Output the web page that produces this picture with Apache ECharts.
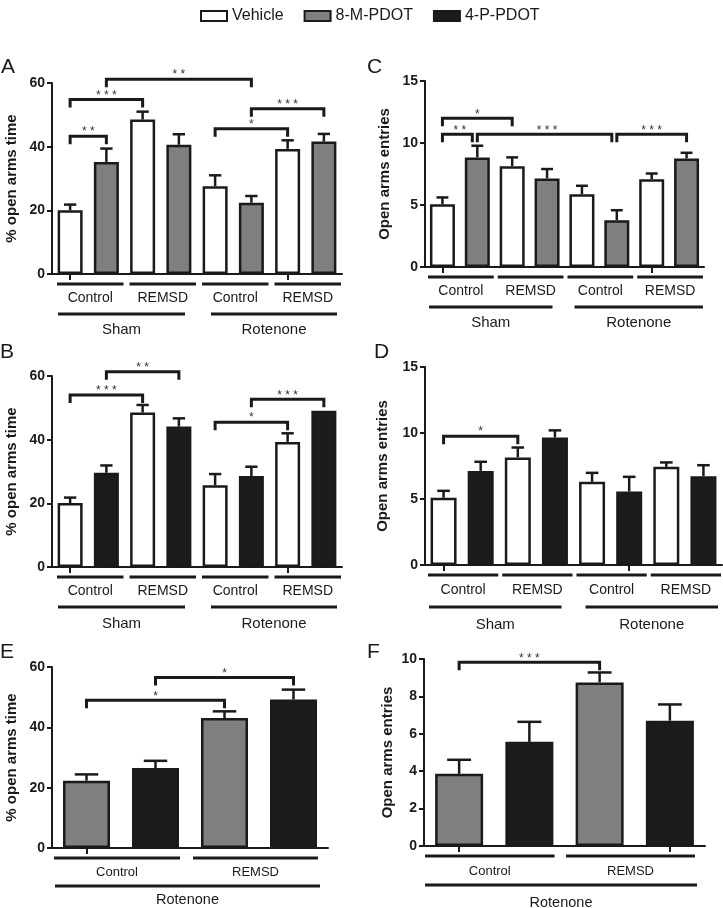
<!DOCTYPE html>
<html><head><meta charset="utf-8">
<script src="https://cdn.jsdelivr.net/npm/echarts@6/dist/echarts.min.js"></script>
<style>html,body{margin:0;padding:0;background:#fff}#c{width:723px;height:908px}</style>
</head><body><div id="c"></div>
<script>
// ---------------- DATA ----------------
const legendNames = ['Vehicle', '8-M-PDOT', '4-P-PDOT'];

const cats8 = ['Sham Control Vehicle', 'Sham Control Drug', 'Sham REMSD Vehicle', 'Sham REMSD Drug',
               'Rotenone Control Vehicle', 'Rotenone Control Drug', 'Rotenone REMSD Vehicle', 'Rotenone REMSD Drug'];
const cats4 = ['Rotenone Control 8-M-PDOT', 'Rotenone Control 4-P-PDOT', 'Rotenone REMSD 8-M-PDOT', 'Rotenone REMSD 4-P-PDOT'];

const treatA = ['Vehicle', '8-M-PDOT', 'Vehicle', '8-M-PDOT', 'Vehicle', '8-M-PDOT', 'Vehicle', '8-M-PDOT'];
const meanA  = [20.0, 35.2, 48.5, 40.6, 27.6, 22.4, 39.3, 41.6];
const errA   = [1.8, 4.2, 2.5, 3.3, 3.4, 2.1, 2.7, 2.4];
const sigA   = [[0, 1, 43.3, '**'], [0, 2, 54.8, '***'], [1, 5, 61.2, '**'], [4, 6, 45.6, '*'], [5, 7, 51.9, '***']];

const treatB = ['Vehicle', '4-P-PDOT', 'Vehicle', '4-P-PDOT', 'Vehicle', '4-P-PDOT', 'Vehicle', '4-P-PDOT'];
const meanB  = [20.1, 29.6, 48.5, 44.1, 25.7, 28.6, 39.3, 49.1];
const errB   = [1.7, 2.3, 2.4, 2.6, 3.5, 2.9, 2.7, 0];
const sigB   = [[0, 2, 54.0, '***'], [1, 3, 61.3, '**'], [4, 6, 45.5, '*'], [5, 7, 52.7, '***']];

const treatC = treatA;
const meanC  = [5.06, 8.84, 8.13, 7.14, 5.87, 3.77, 7.08, 8.76];
const errC   = [0.55, 0.94, 0.71, 0.76, 0.68, 0.81, 0.46, 0.45];
const sigC   = [[0, 1, 10.7, '**'], [0, 2, 12.0, '*'], [1, 5, 10.7, '***'], [5, 7, 10.7, '***']];

const treatD = treatB;
const meanD  = [5.09, 7.13, 8.15, 9.66, 6.30, 5.57, 7.44, 6.73];
const errD   = [0.53, 0.69, 0.75, 0.54, 0.68, 1.11, 0.33, 0.83];
const sigD   = [[0, 2, 9.76, '*']];

const treatE = ['8-M-PDOT', '4-P-PDOT', '8-M-PDOT', '4-P-PDOT'];
const meanE  = [22.3, 26.5, 43.1, 49.2];
const errE   = [2.1, 2.4, 2.2, 3.3];
const sigE   = [[0, 2, 48.96, '*'], [1, 3, 56.5, '*']];

const treatF = treatE;
const meanF  = [3.86, 5.57, 8.75, 6.70];
const errF   = [0.75, 1.07, 0.53, 0.87];
const sigF   = [[0, 2, 9.82, '***']];

const groups8 = [[0, 1, 'Control'], [2, 3, 'REMSD'], [4, 5, 'Control'], [6, 7, 'REMSD']];
const supers8 = [[0, 3, 'Sham'], [4, 7, 'Rotenone']];
const groups4 = [[0, 1, 'Control'], [2, 3, 'REMSD']];
const supers4 = [[0, 3, 'Rotenone']];

const yTimeName = '% open arms time';
const yEntName = 'Open arms entries';

// ---------------- STYLE / LAYOUT ----------------
const FONT = '"Liberation Sans", Arial, Helvetica, sans-serif';
const INK = '#1a1a1a';
const fills = {'Vehicle': '#ffffff', '8-M-PDOT': '#7f7f7f', '4-P-PDOT': '#1c1c1c'};

const panels = [
  {letter: 'A', lpos: [1, 57], cats: cats8, treat: treatA, mean: meanA, err: errA, sig: sigA, groups: groups8, supers: supers8,
   yMax: 60, yInt: 20, yName: yTimeName, grid: {left: 52, top: 83, width: 290, height: 191}, barW: 25, nameGap: 33,
   u: {l1: 10, t1: 24.5, l2: 40, t2: 56, fs1: 14, fs2: 15, in1: [[5, 1], [5, 1], [5, 1], [5, 1]], in2: [[6, 12], [14, 5]]}},
  {letter: 'B', lpos: [0, 342], cats: cats8, treat: treatB, mean: meanB, err: errB, sig: sigB, groups: groups8, supers: supers8,
   yMax: 60, yInt: 20, yName: yTimeName, grid: {left: 52, top: 376, width: 290, height: 191}, barW: 25, nameGap: 33,
   u: {l1: 10, t1: 24.5, l2: 40, t2: 57, fs1: 14, fs2: 15, in1: [[5, 1], [5, 1], [5, 1], [5, 1]], in2: [[6, 12], [14, 5]]}},
  {letter: 'C', lpos: [367, 57], cats: cats8, treat: treatC, mean: meanC, err: errC, sig: sigC, groups: groups8, supers: supers8,
   yMax: 15, yInt: 5, yName: yEntName, grid: {left: 425, top: 81, width: 279, height: 186}, barW: 25, nameGap: 33,
   u: {l1: 10, t1: 24, l2: 40, t2: 56, fs1: 14, fs2: 15, in1: [[3, 1], [3, 1], [3, 1], [3, 1]], in2: [[4, 12], [10, 1]]}},
  {letter: 'D', lpos: [374, 342], cats: cats8, treat: treatD, mean: meanD, err: errD, sig: sigD, groups: groups8, supers: supers8,
   yMax: 15, yInt: 5, yName: yEntName, grid: {left: 425, top: 367, width: 297, height: 198}, barW: 26, nameGap: 35,
   u: {l1: 10, t1: 25, l2: 42, t2: 60, fs1: 14, fs2: 15, in1: [[3, 1], [3, 1], [3, 1], [3, 1]], in2: [[4, 12], [12, 4]]}},
  {letter: 'E', lpos: [0, 642], cats: cats4, treat: treatE, mean: meanE, err: errE, sig: sigE, groups: groups4, supers: supers4,
   yMax: 60, yInt: 20, yName: yTimeName, grid: {left: 52, top: 667, width: 276, height: 181}, barW: 47, nameGap: 33,
   u: {l1: 10, t1: 24.5, l2: 38, t2: 52, fs1: 13, fs2: 14.5, in1: [[2, 10], [3, 10]], in2: [[3, 8]]}},
  {letter: 'F', lpos: [367, 642], cats: cats4, treat: treatF, mean: meanF, err: errF, sig: sigF, groups: groups4, supers: supers4,
   yMax: 10, yInt: 2, yName: yEntName, grid: {left: 424, top: 659, width: 281, height: 187}, barW: 48, nameGap: 29,
   u: {l1: 10, t1: 25.5, l2: 39, t2: 57, fs1: 13, fs2: 14.5, in1: [[1, 10], [1.5, 10]], in2: [[1, 8]]}}
];

// ---------------- BUILD ----------------
const grids = [], xAxes = [], yAxes = [], series = [], titles = [];

panels.forEach((p, k) => {
  grids.push(Object.assign({outerBoundsMode: 'none', containLabel: false}, p.grid));
  xAxes.push({
    gridIndex: k, type: 'category', data: p.cats,
    axisLine: {show: true, lineStyle: {color: INK, width: 2}},
    axisTick: {show: true, alignWithLabel: true, length: 6, lineStyle: {color: INK, width: 2}},
    axisLabel: {show: false}, splitLine: {show: false}
  });
  yAxes.push({
    gridIndex: k, type: 'value', min: 0, max: p.yMax, interval: p.yInt,
    axisLine: {show: true, lineStyle: {color: INK, width: 2}},
    axisTick: {show: true, length: 5, lineStyle: {color: INK, width: 2}},
    axisLabel: {fontWeight: 'bold', fontSize: 14, color: INK, fontFamily: FONT, margin: 7},
    splitLine: {show: false},
    name: p.yName, nameLocation: 'middle', nameRotate: 90, nameGap: p.nameGap,
    nameTextStyle: {fontWeight: 'bold', fontSize: 15, color: INK, fontFamily: FONT}
  });
  titles.push({text: p.letter, left: p.lpos[0], top: p.lpos[1], padding: 0,
    textStyle: {fontSize: 21, fontWeight: 'normal', color: INK, fontFamily: FONT}});

  // bars: one series per treatment in this panel
  legendNames.forEach(t => {
    if (p.treat.indexOf(t) < 0) return;
    series.push({
      type: 'bar', name: t, xAxisIndex: k, yAxisIndex: k, barWidth: p.barW, barGap: '-100%',
      data: p.mean.map((v, i) => p.treat[i] === t ? v : '-'),
      itemStyle: {color: fills[t], borderColor: INK, borderWidth: 2.5},
      silent: true, animation: false, z: 3
    });
  });

  // error bars (upper only)
  series.push({
    type: 'custom', xAxisIndex: k, yAxisIndex: k, animation: false, silent: true, z: 2,
    data: p.mean.map((v, i) => [i, v, p.err[i]]),
    encode: {x: 0, y: 1},
    renderItem: (params, api) => {
      const i = api.value(0), m = api.value(1), e = api.value(2);
      if (!(e > 0)) return null;
      const b = api.coord([i, m]), t = api.coord([i, m + e]);
      const cap = api.size([1, 0])[0] * 0.34;
      const st = {stroke: INK, lineWidth: 2.5};
      return {type: 'group', children: [
        {type: 'line', shape: {x1: b[0], y1: b[1], x2: t[0], y2: t[1]}, style: st},
        {type: 'line', shape: {x1: t[0] - cap / 2, y1: t[1], x2: t[0] + cap / 2, y2: t[1]}, style: st}
      ]};
    }
  });

  // significance brackets
  series.push({
    type: 'custom', xAxisIndex: k, yAxisIndex: k, animation: false, silent: true, clip: false, z: 4,
    data: p.sig.map(s => [s[0], s[2]]),
    encode: {x: 0, y: 1},
    renderItem: (params, api) => {
      const s = p.sig[params.dataIndex];
      const a = api.coord([s[0], s[2]]), b = api.coord([s[1], s[2]]);
      // if another bracket at the same height starts where this one ends, pull this end back a little
      const shared = p.sig.some(o => o !== s && o[2] === s[2] && o[0] === s[1]);
      const bx = shared ? b[0] - 5 : b[0];
      const leg = 8;
      const ch = [{type: 'polyline', shape: {points: [[a[0], a[1] + leg], [a[0], a[1]], [bx, b[1]], [bx, b[1] + leg]]},
        style: {stroke: INK, lineWidth: 3, fill: null}}];
      const n = s[3].length, cx = (a[0] + b[0]) / 2, pitch = 8;
      for (let c = 0; c < n; c++) {
        ch.push({type: 'text', x: cx + (c - (n - 1) / 2) * pitch, y: a[1] - 10,
          style: {text: s[3][c], textAlign: 'center', textVerticalAlign: 'top', font: '12px ' + FONT, fill: '#333'}});
      }
      return {type: 'group', children: ch};
    }
  });

  // group lines / labels under the axis
  series.push({
    type: 'custom', xAxisIndex: k, yAxisIndex: k, animation: false, silent: true, clip: false, z: 4,
    data: [[0, 0]], encode: {x: 0, y: 1},
    renderItem: (params, api) => {
      const bw = api.size([1, 0])[0];
      const y0 = api.coord([0, 0])[1];
      const u = p.u, ch = [];
      const add = (list, ins, ly, ty, fs) => {
        list.forEach((g, gi) => {
          const xa = api.coord([g[0], 0])[0] - bw / 2 + ins[gi][0];
          const xb = api.coord([g[1], 0])[0] + bw / 2 - ins[gi][1];
          ch.push({type: 'line', shape: {x1: xa, y1: y0 + ly, x2: xb, y2: y0 + ly}, style: {stroke: INK, lineWidth: 3}});
          ch.push({type: 'text', x: (xa + xb) / 2, y: y0 + ty,
            style: {text: g[2], textAlign: 'center', textVerticalAlign: 'middle', font: fs + 'px ' + FONT, fill: INK}});
        });
      };
      add(p.groups, u.in1, u.l1, u.t1, u.fs1);
      add(p.supers, u.in2, u.l2, u.t2, u.fs2);
      return {type: 'group', children: ch};
    }
  });
});

const chart = echarts.init(document.getElementById('c'), null, {renderer: 'canvas', width: 723, height: 908});
chart.setOption({
  backgroundColor: '#ffffff',
  animation: false,
  title: titles,
  legend: {
    data: [
      {name: 'Vehicle', itemStyle: {color: '#ffffff', borderColor: INK, borderWidth: 2}},
      {name: '8-M-PDOT', itemStyle: {color: '#7f7f7f', borderColor: INK, borderWidth: 2}},
      {name: '4-P-PDOT', itemStyle: {color: '#1c1c1c', borderColor: INK, borderWidth: 2}}
    ],
    left: 195, top: 3, icon: 'rect', itemWidth: 26, itemHeight: 10, itemGap: 20, selectedMode: false,
    textStyle: {fontSize: 16, color: INK, fontFamily: FONT}
  },
  grid: grids, xAxis: xAxes, yAxis: yAxes, series: series
});
</script></body></html>
